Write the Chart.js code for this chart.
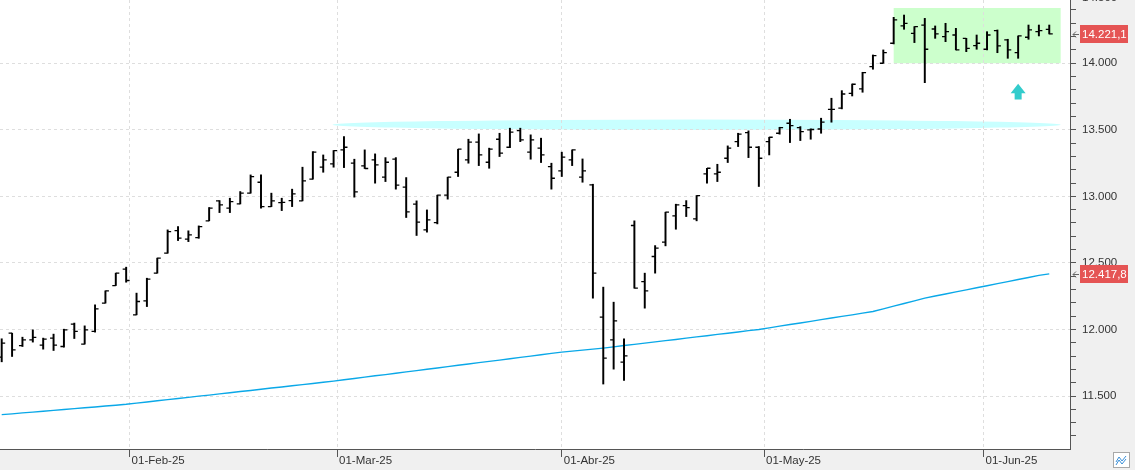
<!DOCTYPE html>
<html>
<head>
<meta charset="utf-8">
<script src="https://cdn.jsdelivr.net/npm/chart.js@4.4.1/dist/chart.umd.min.js"></script>
<style>
    html, body { margin: 0; padding: 0; background: #f0f0f0; }
    #wrap { width: 1135px; height: 470px; }
</style>
</head>
<body>
<div id="wrap"><canvas id="chart" width="1135" height="470"></canvas></div>
<script>
// daily bars, 15-Jan-25 .. 10-Jun-25 (index = trading day)
const opens = [11792,11972,11879,11922,11882,11935,11872,12040,11890,11985,
    12198,12330,12453,12110,12215,12423,12573,12743,12678,12690,
    12816,12966,12911,12943,13024,13106,12923,12953,12968,12966,
    13129,13219,13244,13349,13249,13229,13274,13144,13279,13069,
    12941,12748,12803,13009,13181,13274,13407,13256,13429,13369,
    13494,13332,13362,13224,13191,13274,13144,13086,12093,11922,
    11755,12781,12360,12548,12656,12853,12931,12831,13169,13169,
    13286,13411,13479,13369,13411,13474,13549,13516,13499,13506,
    13654,13662,13774,13807,13974,14000,14150,14280,14225,14287,
    14257,14200,14212,14187,14132,14105,14245,14175,14079,14195,
    14237,14255];
const highs = [11930,11972,11942,11997,11935,11965,12002,12048,12027,12185,
    12290,12423,12468,12273,12385,12536,12748,12773,12741,12778,
    12916,12968,12986,13036,13161,13161,13024,12986,13054,13219,
    13336,13311,13344,13449,13279,13349,13319,13291,13291,13141,
    12966,12898,13009,13144,13354,13429,13469,13362,13474,13512,
    13512,13462,13437,13249,13332,13349,13281,13091,12318,12205,
    11930,12816,12423,12630,12881,12941,12968,13006,13211,13241,
    13379,13474,13492,13374,13444,13519,13579,13524,13507,13587,
    13737,13794,13844,13932,14062,14100,14345,14362,14275,14337,
    14280,14300,14262,14187,14212,14237,14250,14180,14205,14287,
    14287,14287];
const lows = [11757,11797,11872,11905,11852,11842,11867,11932,11890,11980,
    12198,12330,12355,12110,12172,12423,12573,12668,12660,12685,
    12816,12878,12878,12943,13024,12911,12923,12893,12923,12966,
    13129,13181,13219,13216,12994,13209,13099,13111,13054,12841,
    12706,12731,12793,12979,13149,13249,13231,13211,13299,13366,
    13411,13279,13254,13054,13149,13231,13106,12235,11590,11702,
    11617,12310,12160,12423,12628,12753,12848,12816,13099,13111,
    13254,13374,13291,13074,13311,13467,13404,13419,13429,13474,
    13557,13657,13754,13782,13955,14000,14145,14255,14155,13854,
    14187,14162,14100,14087,14105,14100,14079,14037,14037,14180,
    14205,14220];
const closes = [11897,11847,11922,11940,11927,11882,11997,11985,11997,12155,
    12290,12423,12368,12210,12378,12536,12735,12686,12711,12773,
    12911,12936,12961,13024,13148,12923,12966,12955,13018,13116,
    13332,13274,13344,13369,13033,13209,13236,13256,13084,12883,
    12806,12823,13009,13144,13354,13407,13311,13354,13324,13482,
    13424,13424,13311,13136,13294,13349,13191,12423,11785,12065,
    11802,12310,12290,12611,12881,12936,12916,13006,13211,13181,
    13362,13467,13369,13286,13444,13516,13531,13486,13502,13557,
    13654,13769,13842,13929,14057,14079,14325,14300,14275,14105,
    14220,14237,14100,14112,14150,14212,14130,14100,14205,14250,
    14245,14221.1];
// long moving average
const sma = [11360,11366,11373,11379,11386,11392,11399,11405,11412,11418,
    11425,11431,11438,11447,11455,11464,11473,11481,11490,11499,
    11507,11516,11525,11534,11542,11551,11560,11568,11577,11586,
    11594,11603,11612,11622,11632,11642,11652,11661,11671,11681,
    11691,11701,11711,11721,11731,11741,11751,11760,11770,11780,
    11790,11800,11810,11820,11830,11837,11845,11852,11860,11869,
    11879,11888,11897,11907,11916,11925,11935,11944,11953,11963,
    11972,11981,11991,12000,12012,12025,12037,12049,12061,12074,
    12086,12098,12110,12123,12135,12155,12175,12195,12215,12235,
    12251,12266,12282,12297,12313,12328,12344,12359,12375,12390,
    12406,12417.8];

const monthTicks = [12.333, 32.333, 54, 73.5, 94.667];
const monthLabels = ["01-Feb-25", "01-Mar-25", "01-Abr-25", "01-May-25", "01-Jun-25"];
const majorPrices = [11500, 12000, 12500, 13000, 13500, 14000, 14500];

// drawings on the chart (data units)
const boxX = [86.0, 102.1], boxY = [14000, 14415];
const bandX = [31.9, 102.1], bandMid = 13538, bandHalf = 39;
const arrowX = 98.0, arrowTip = 13846, arrowBase = 13728;

const FAMILY = '"Liberation Sans", Arial, sans-serif';
const FONT = '11.5px ' + FAMILY;

function fmt(v, dec) {
    const parts = v.toFixed(dec || 0).split(".");
    const s = parts[0].replace(/\B(?=(\d{3})+(?!\d))/g, ".");
    return parts[1] ? s + "," + parts[1] : s;
}

const backdrop = {
    id: "backdrop",
    beforeDraw(chart) {
        const { ctx, chartArea: a, scales: { x, y } } = chart;
        ctx.save();
        ctx.fillStyle = "#f0f0f0";
        ctx.fillRect(0, 0, chart.width, chart.height);
        ctx.fillStyle = "#ffffff";
        ctx.fillRect(a.left, a.top, a.right - a.left, a.bottom - a.top);

        ctx.beginPath();
        ctx.rect(a.left, a.top, a.right - a.left, a.bottom - a.top);
        ctx.clip();

        // green zone
        const bx0 = x.getPixelForValue(boxX[0]), bx1 = x.getPixelForValue(boxX[1]);
        const by0 = y.getPixelForValue(boxY[1]), by1 = y.getPixelForValue(boxY[0]);
        ctx.fillStyle = "#ccffcc";
        ctx.fillRect(bx0, by0, bx1 - bx0, by1 - by0);

        // cyan resistance band
        const ex0 = x.getPixelForValue(bandX[0]), ex1 = x.getPixelForValue(bandX[1]);
        const ey = y.getPixelForValue(bandMid);
        const eh = y.getPixelForValue(bandMid - bandHalf) - ey;
        ctx.fillStyle = "#c8ffff";
        ctx.beginPath();
        ctx.ellipse((ex0 + ex1) / 2, ey, (ex1 - ex0) / 2, eh, 0, 0, Math.PI * 2);
        ctx.fill();

        // up arrow
        const ax = x.getPixelForValue(arrowX);
        const at = y.getPixelForValue(arrowTip), ab = y.getPixelForValue(arrowBase);
        const ah = at + (ab - at) * 0.6;
        ctx.fillStyle = "#33cccc";
        ctx.beginPath();
        ctx.moveTo(ax, at);
        ctx.lineTo(ax + 7.5, ah);
        ctx.lineTo(ax + 3.5, ah);
        ctx.lineTo(ax + 3.5, ab);
        ctx.lineTo(ax - 3.5, ab);
        ctx.lineTo(ax - 3.5, ah);
        ctx.lineTo(ax - 7.5, ah);
        ctx.closePath();
        ctx.fill();
        ctx.restore();
    }
};

const ohlcTicks = {
    id: "ohlcTicks",
    afterDatasetsDraw(chart) {
        const { ctx, scales: { x, y } } = chart;
        ctx.save();
        ctx.strokeStyle = "#000";
        ctx.lineWidth = 1.3;
        ctx.beginPath();
        for (let i = 0; i < closes.length; i++) {
            const px = x.getPixelForValue(i);
            const po = y.getPixelForValue(opens[i]);
            const pc = y.getPixelForValue(closes[i]);
            ctx.moveTo(px - 3.5, po); ctx.lineTo(px, po);
            ctx.moveTo(px, pc); ctx.lineTo(px + 3.5, pc);
        }
        ctx.stroke();
        ctx.restore();
    }
};

const lastLabels = {
    id: "lastLabels",
    afterDraw(chart) {
        const { ctx, chartArea: a, scales: { y } } = chart;
        ctx.save();
        ctx.font = FONT;
        ctx.textBaseline = "middle";

        // cut label at the top
        ctx.fillStyle = "#333";
        ctx.fillText(fmt(majorPrices[6]), a.right + 12, y.getPixelForValue(majorPrices[6]) + 1);

        [closes[closes.length - 1], sma[sma.length - 1]].forEach(v => {
            const py = Math.round(y.getPixelForValue(v));
            ctx.fillStyle = "#e55454";
            ctx.fillRect(a.right + 10, py - 9, 48, 18);
            ctx.fillStyle = "#ffffff";
            ctx.fillText(fmt(v, 1), a.right + 12, py + 0.5);
            // small pointer arrow
            ctx.strokeStyle = "#666";
            ctx.lineWidth = 1;
            ctx.beginPath();
            ctx.moveTo(a.right + 9, py + 0.5); ctx.lineTo(a.right + 3, py + 0.5);
            ctx.moveTo(a.right + 6, py - 2.5); ctx.lineTo(a.right + 3, py + 0.5); ctx.lineTo(a.right + 6, py + 3.5);
            ctx.stroke();
        });

        // corner button
        ctx.fillStyle = "#fff";
        ctx.fillRect(1113.5, 452.5, 16, 15);
        ctx.strokeStyle = "#a8a8a8";
        ctx.strokeRect(1113.5, 452.5, 16, 15);
        ctx.strokeStyle = "#3a8fd8";
        ctx.beginPath();
        ctx.moveTo(1116, 462); ctx.lineTo(1119, 457); ctx.lineTo(1122, 461); ctx.lineTo(1126, 456);
        ctx.moveTo(1116, 465); ctx.lineTo(1119, 460); ctx.lineTo(1122, 464); ctx.lineTo(1126, 459);
        ctx.stroke();
        ctx.restore();
    }
};

new Chart(document.getElementById("chart"), {
    type: "bar",
    data: {
        datasets: [{
            type: "bar",
            data: lows.map((l, i) => ({ x: i, y: [l, highs[i]] })),
            backgroundColor: "#000",
            borderWidth: 0,
            barThickness: 1.3,
            order: 1
        }, {
            type: "line",
            data: sma.map((v, i) => ({ x: i, y: v })),
            borderColor: "#0aa8e8",
            borderWidth: 1.4,
            pointRadius: 0,
            tension: 0,
            order: 2
        }]
    },
    options: {
        responsive: false,
        animation: false,
        devicePixelRatio: 1,
        layout: { padding: 0 },
        plugins: { legend: { display: false }, tooltip: { enabled: false } },
        scales: {
            x: {
                type: "linear",
                min: -0.164,
                max: 103.0,
                offset: false,
                grid: { color: "#dedede", tickColor: "#555", tickLength: 8, offset: false },
                border: { color: "#555", dash: [3, 3] },
                afterBuildTicks: s => { s.ticks = monthTicks.map(v => ({ value: v })); },
                afterFit: s => { s.height = 21; s.paddingLeft = 0; s.paddingRight = 0; },
                ticks: {
                    autoSkip: false,
                    maxRotation: 0,
                    align: "start",
                    labelOffset: 2,
                    padding: -3,
                    color: "#333",
                    font: { family: FAMILY, size: 11.5 },
                    callback: (v, i) => monthLabels[i]
                }
            },
            y: {
                type: "linear",
                position: "right",
                min: 11102,
                max: 14475,
                grid: {
                    color: c => (c.tick && c.tick.value % 500 === 0) ? "#dedede" : "rgba(0,0,0,0)",
                    tickColor: "#555",
                    tickLength: 6
                },
                border: { color: "#555", dash: [3, 3] },
                afterBuildTicks: s => {
                    const t = [];
                    for (let v = 11200; v <= 14400; v += 100) t.push({ value: v });
                    s.ticks = t;
                },
                afterFit: s => { s.width = 65; s.paddingTop = 0; s.paddingBottom = 0; },
                ticks: {
                    autoSkip: false,
                    padding: 6,
                    color: "#333",
                    font: { family: FAMILY, size: 11.5 },
                    callback: v => majorPrices.includes(v) ? fmt(v) : ""
                }
            }
        }
    },
    plugins: [backdrop, ohlcTicks, lastLabels]
});
</script>
</body>
</html>
